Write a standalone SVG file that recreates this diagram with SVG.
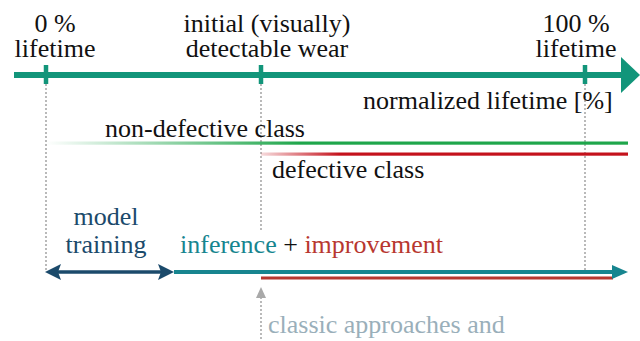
<svg xmlns="http://www.w3.org/2000/svg" width="640" height="341" viewBox="0 0 640 341">
  <defs>
    <linearGradient id="gGreen" gradientUnits="userSpaceOnUse" x1="46" y1="0" x2="300" y2="0">
      <stop offset="0" stop-color="#1fa64b" stop-opacity="0"/>
      <stop offset="1" stop-color="#1fa64b" stop-opacity="1"/>
    </linearGradient>
    <linearGradient id="gRed" gradientUnits="userSpaceOnUse" x1="261" y1="0" x2="340" y2="0">
      <stop offset="0" stop-color="#c4121c" stop-opacity="0.15"/>
      <stop offset="1" stop-color="#c4121c" stop-opacity="1"/>
    </linearGradient>
  </defs>
  <rect width="640" height="341" fill="#ffffff"/>

  <!-- dotted guide lines from the axis ticks -->
  <g id="guides" stroke="#a9a9a9" stroke-width="1.6" stroke-dasharray="2 2" fill="none">
    <line x1="46" y1="84" x2="46" y2="270"/>
    <line x1="261" y1="84" x2="261" y2="230"/>
    <line x1="585" y1="84" x2="585" y2="270"/>
  </g>

  <!-- lifetime axis -->
  <g id="axis">
    <rect x="14" y="72" width="612" height="6" fill="#12957a"/>
    <polygon points="621,57 640,75 621,93" fill="#12957a"/>
    <g stroke="#12957a" stroke-width="4.5">
      <line x1="46" y1="65" x2="46" y2="84"/>
      <line x1="261" y1="65" x2="261" y2="84"/>
      <line x1="585" y1="65" x2="585" y2="84"/>
    </g>
    <text x="55" y="32" font-family="Times New Roman" font-size="26" fill="#111" text-anchor="middle">0 %</text>
    <text x="55" y="57" font-family="Times New Roman" font-size="26" fill="#111" text-anchor="middle">lifetime</text>
    <text x="267" y="32" font-family="Times New Roman" font-size="26" fill="#111" text-anchor="middle">initial (visually)</text>
    <text x="267" y="57" font-family="Times New Roman" font-size="26" fill="#111" text-anchor="middle">detectable wear</text>
    <text x="576" y="32" font-family="Times New Roman" font-size="26" fill="#111" text-anchor="middle">100 %</text>
    <text x="576" y="57" font-family="Times New Roman" font-size="26" fill="#111" text-anchor="middle">lifetime</text>
    <text x="363" y="109" font-family="Times New Roman" font-size="26" fill="#111">normalized lifetime [%]</text>
  </g>

  <!-- class bands -->
  <g id="non-defective">
    <rect x="46" y="141.5" width="582" height="3.2" fill="url(#gGreen)"/>
    <text x="105" y="137" font-family="Times New Roman" font-size="26" fill="#111">non-defective class</text>
  </g>
  <g id="defective">
    <rect x="261" y="152.5" width="367" height="3.2" fill="url(#gRed)"/>
    <text x="272" y="178" font-family="Times New Roman" font-size="26" fill="#111">defective class</text>
  </g>

  <!-- phases -->
  <g id="training">
    <text x="106" y="225" font-family="Times New Roman" font-size="26" fill="#1b4a6b" text-anchor="middle">model</text>
    <text x="106" y="253" font-family="Times New Roman" font-size="26" fill="#1b4a6b" text-anchor="middle">training</text>
  </g>
  <g id="inference">
    <text x="180" y="253" font-family="Times New Roman" font-size="26" fill="#111"><tspan fill="#17858f">inference</tspan> + <tspan fill="#b8372f">improvement</tspan></text>
  </g>
  <g id="classic">
    <text x="268" y="333" font-family="Times New Roman" font-size="26" fill="#9aafba">classic approaches and</text>
  </g>

  <!-- connectors -->
  <g id="connectors">
    <line x1="58" y1="272" x2="162" y2="272" stroke="#1b4a6b" stroke-width="3.6"/>
    <polygon points="45,272 61,264 58,272 61,280" fill="#1b4a6b"/>
    <polygon points="174,272 158,264 161,272 158,280" fill="#1b4a6b"/>
    <rect x="261" y="276.5" width="352" height="3" fill="#b8372f"/>
    <line x1="174" y1="272" x2="614" y2="272" stroke="#17858f" stroke-width="3.8"/>
    <polygon points="612,265 628,272 612,279" fill="#17858f"/>
    <line x1="261" y1="297" x2="261" y2="341" stroke="#a9a9a9" stroke-width="1.6" stroke-dasharray="2 2"/>
    <polygon points="256,298 261,287 266,298" fill="#a9a9a9"/>
  </g>
</svg>
